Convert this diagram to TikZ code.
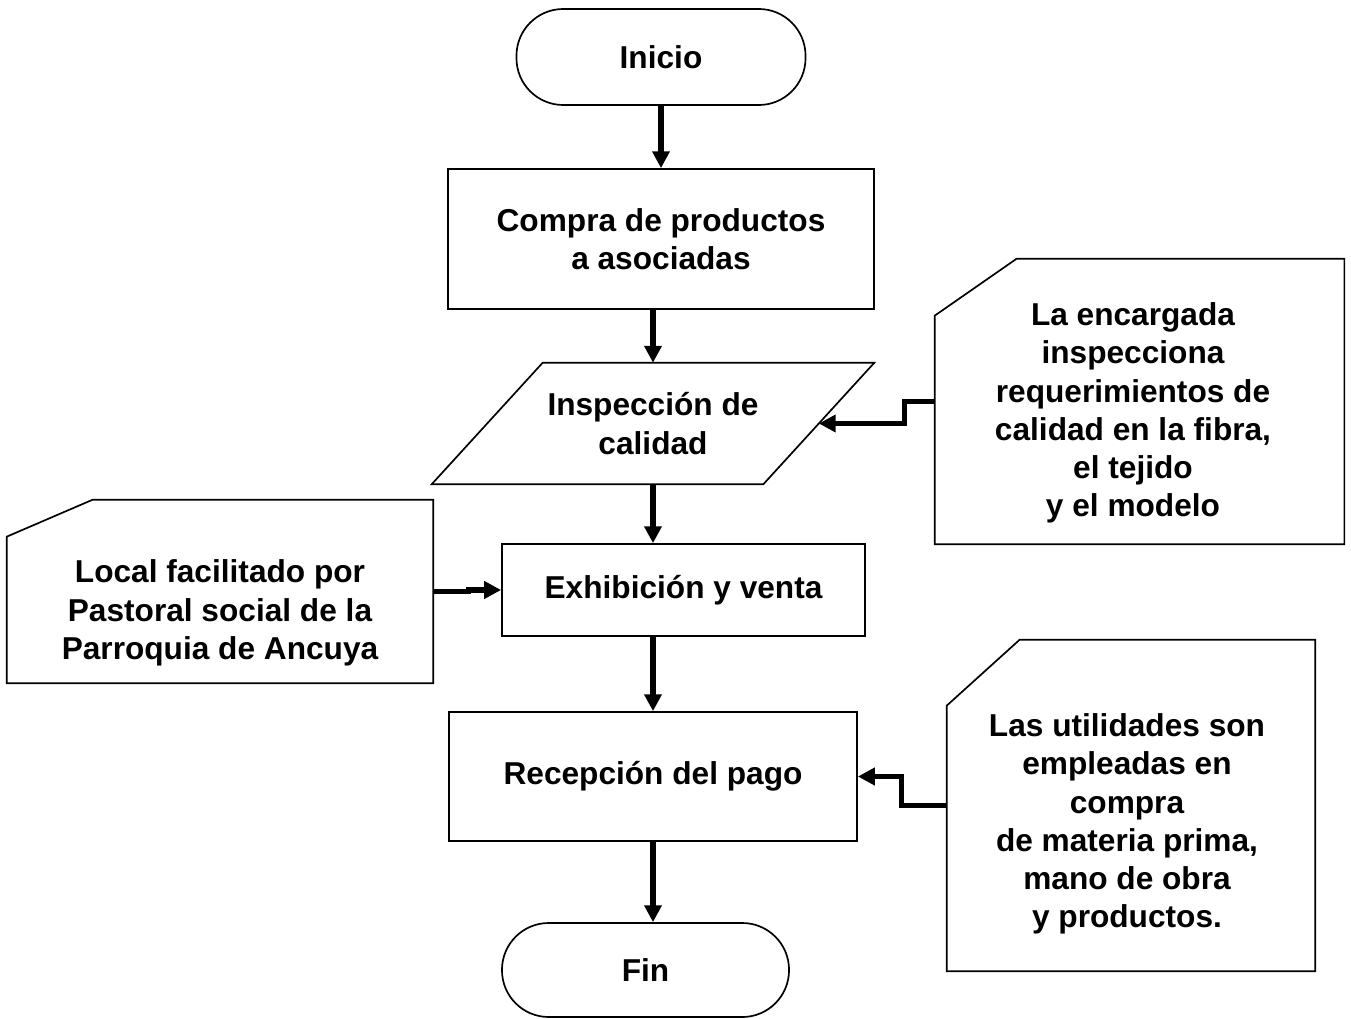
\documentclass[tikz,border=0pt]{standalone}
\usepackage{fontspec}
\setmainfont{Liberation Sans}
\usetikzlibrary{arrows.meta}

\begin{document}
\begin{tikzpicture}[x=0.025cm,y=-0.025cm,
  every node/.style={font=\fontsize{22.5}{27.2}\selectfont\bfseries,align=center},
  box/.style={draw,line width=1.2pt},
  terminal/.style={box,rounded corners=1.17cm},
  outline/.style={line width=1.2pt},
  flow/.style={line width=4pt,-{Triangle[length=12pt,width=12pt]}}]
  \useasboundingbox (0,0) rectangle (1351,1019);

  \node[terminal,minimum width=7.225cm,minimum height=2.4cm] (inicio) at (661,57) {Inicio};
  \node[box,minimum width=10.65cm,minimum height=3.5cm] (compra) at (661,239) {Compra de productos\\a asociadas};
  \node[minimum width=11.05cm,minimum height=3.025cm] (inspeccion) at (653,423.5) {Inspección de\\calidad};
  \node[box,minimum width=9.075cm,minimum height=2.3cm] (exhibicion) at (683.5,590) {Exhibición y venta};
  \node[box,minimum width=10.2cm,minimum height=3.225cm] (recepcion) at (653,776.5) {Recepción del pago};
  \node[terminal,minimum width=7.175cm,minimum height=2.35cm] (fin) at (645.5,970) {Fin};

  % parallelogram of the inspection step
  \draw[outline] ([xshift=2.775cm]inspeccion.north west) -- (inspeccion.north east)
    -- ([xshift=-2.775cm]inspeccion.south east) -- (inspeccion.south west) -- cycle;
  \coordinate (inspeccionR) at ([xshift=-1.3875cm]inspeccion.east);

  \node[minimum width=10.225cm,minimum height=7.125cm] (encargada) at (1139.5,401.5) {};
  \node (encargadatxt) at (1133,413) {La encargada\\inspecciona\\requerimientos de\\calidad en la fibra,\\el tejido\\y el modelo};
  \node[minimum width=10.65cm,minimum height=4.575cm] (local) at (220,591.5) {};
  \node (localtxt) at (220,613) {Local facilitado por\\Pastoral social de la\\Parroquia de Ancuya};
  \node[minimum width=9.2cm,minimum height=8.275cm] (utilidades) at (1131,805.5) {};
  \node (utilidadestxt) at (1127,824) {Las utilidades son\\empleadas en\\compra\\de materia prima,\\mano de obra\\y productos.};

  % cards with the cut corner
  \draw[outline] ([xshift=2.05cm]encargada.north west) -- (encargada.north east) -- (encargada.south east)
    -- (encargada.south west) -- ([yshift=-1.425cm]encargada.north west) -- cycle;
  \draw[outline] ([xshift=2.15cm]local.north west) -- (local.north east) -- (local.south east)
    -- (local.south west) -- ([yshift=-0.925cm]local.north west) -- cycle;
  \draw[outline] ([xshift=1.825cm]utilidades.north west) -- (utilidades.north east) -- (utilidades.south east)
    -- (utilidades.south west) -- ([yshift=-1.65cm]utilidades.north west) -- cycle;

  \draw[flow] (inicio) -- (compra);
  \draw[flow] (compra.south -| inspeccion.north) -- (inspeccion.north);
  \draw[flow] (inspeccion.south) -- (inspeccion.south |- exhibicion.north);
  \draw[flow] (exhibicion.south -| recepcion.north) -- (recepcion.north);
  \draw[flow] (recepcion.south) -- (recepcion.south |- fin.north);
  \draw[flow] (encargada.west) -- ++(-30,0) |- (inspeccionR);
  \draw[flow] (local.east) -- ++(35,0) |- (exhibicion.west);
  \draw[flow] (utilidades.west) -- ++(-45,0) |- (recepcion.east);
\end{tikzpicture}
\end{document}
